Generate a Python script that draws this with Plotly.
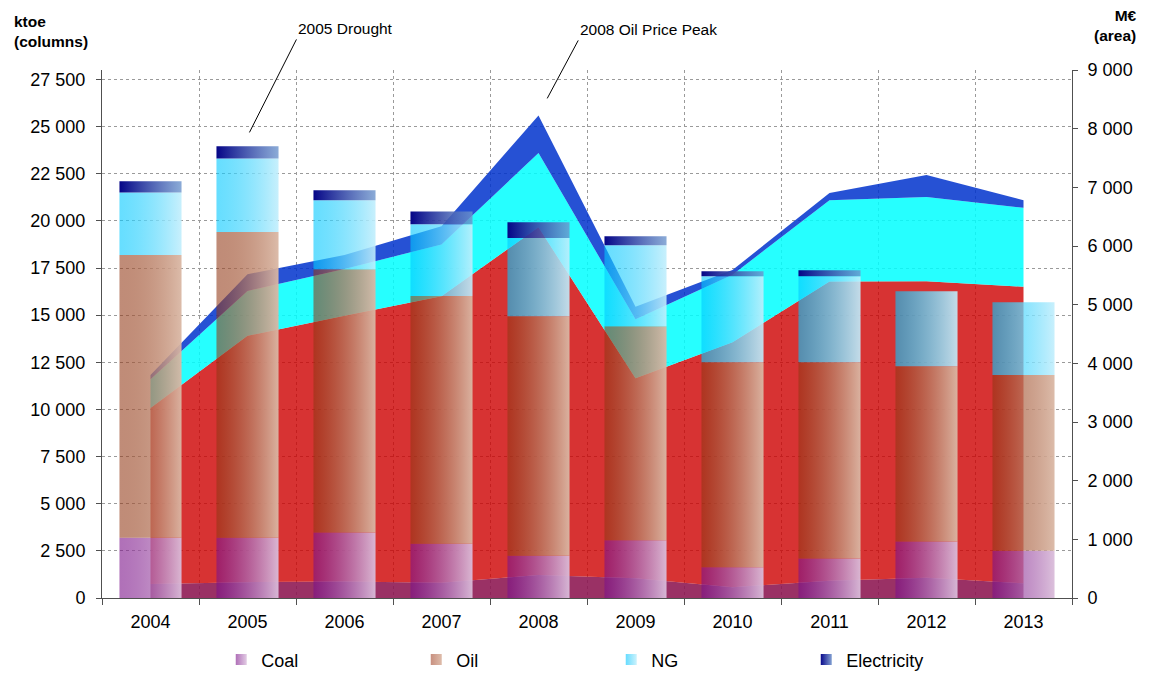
import plotly.graph_objects as go

# ---------------- data ----------------
years = ["2004", "2005", "2006", "2007", "2008", "2009", "2010", "2011", "2012", "2013"]

# columns (ktoe, left axis)
coal_ktoe = [3200, 3200, 3480, 2880, 2240, 3060, 1630, 2100, 2990, 2510]
oil_ktoe = [14990, 16210, 13950, 13140, 12700, 11350, 10870, 10400, 9300, 9310]
ng_ktoe = [3320, 3900, 3660, 3800, 4150, 4290, 4560, 4560, 3980, 3860]
elec_ktoe = [590, 640, 530, 680, 830, 480, 270, 320, 0, 0]

# areas (M EUR, right axis)
coal_meur = [240, 270, 280, 260, 390, 335, 185, 295, 345, 250]
oil_meur = [3000, 4200, 4530, 4885, 5930, 3410, 4175, 5100, 5055, 5055]
ng_meur = [490, 765, 800, 880, 1265, 1005, 1150, 1385, 1435, 1345]
elec_meur = [70, 285, 235, 310, 640, 215, 80, 125, 375, 130]

series_names = ["Coal", "Oil", "NG", "Electricity"]
left_ticks = [0, 2500, 5000, 7500, 10000, 12500, 15000, 17500, 20000, 22500, 25000, 27500]
right_ticks = [0, 1000, 2000, 3000, 4000, 5000, 6000, 7000, 8000, 9000]

# ---------------- styles ----------------
area_colors = ["rgba(140,20,80,0.88)", "rgba(205,0,0,0.8)", "rgba(0,255,255,0.85)", "rgba(0,51,204,0.85)"]
bar_grad = [
    ("rgba(123,17,137,0.6)", "rgba(218,189,218,0.95)"),
    ("rgba(144,53,18,0.57)", "rgba(218,184,165,0.95)"),
    ("rgba(0,200,255,0.6)", "rgba(194,238,252,0.9)"),
    ("rgba(5,5,135,1)", "rgba(110,150,205,0.8)"),
]
legend_grad = [
    ("rgb(176,112,184)", "rgb(226,204,228)"),
    ("rgb(200,144,128)", "rgb(222,188,170)"),
    ("rgb(102,220,255)", "rgb(204,242,252)"),
    ("rgb(10,10,140)", "rgb(130,160,210)"),
]
BAR_HALF = 0.32
FONT = "Liberation Sans, Arial, sans-serif"

idx = list(range(len(years)))
fig = go.Figure()

# stacked areas (drawn first, base axis 'y' = right M EUR axis)
for name, vals, col in zip(series_names, [coal_meur, oil_meur, ng_meur, elec_meur], area_colors):
    fig.add_trace(go.Scatter(
        x=idx, y=vals, stackgroup="meur", mode="none", fillcolor=col,
        yaxis="y", showlegend=False, hoverinfo="skip", name=name + " (M€)"))

# stacked gradient columns (overlaying axis 'y2' = left ktoe axis)
base = [0] * len(years)
for name, vals, (c0, c1) in zip(series_names, [coal_ktoe, oil_ktoe, ng_ktoe, elec_ktoe], bar_grad):
    for i, v in enumerate(vals):
        if v <= 0:
            continue
        b, t = base[i], base[i] + v
        x0, x1 = i - BAR_HALF, i + BAR_HALF
        fig.add_trace(go.Scatter(
            x=[x0, x1, x1, x0, x0], y=[b, b, t, t, b],
            fill="toself", mode="lines", line=dict(width=0),
            fillgradient=dict(type="horizontal", colorscale=[[0, c0], [1, c1]]),
            yaxis="y2", showlegend=False, hoverinfo="skip", name=name))
        base[i] = t

# legend entries with gradient swatches
for name, (l0, l1) in zip(series_names, legend_grad):
    fig.add_trace(go.Scatter(
        x=[None], y=[None], mode="markers", name=name, yaxis="y2",
        marker=dict(symbol="square", size=11, color=l0,
                    gradient=dict(type="horizontal", color=l1), line=dict(width=0))))

grid_col = "#9a9a9a"
axis_col = "#505050"

fig.update_layout(
    width=1141, height=667,
    margin=dict(l=94, r=77, t=62, b=77, autoexpand=False),
    paper_bgcolor="white", plot_bgcolor="white",
    font=dict(family=FONT, size=18, color="black"),
    separators=". ",
    hovermode=False,
    xaxis=dict(
        range=[-0.5, len(years) - 0.5], tickmode="array", tickvals=idx, ticktext=years,
        ticks="", showgrid=False, showline=True, linecolor=axis_col, linewidth=1,
        zeroline=False, fixedrange=True, ticklabelstandoff=7,
        minor=dict(tickmode="array", tickvals=[i - 0.5 for i in range(len(years) + 1)],
                   ticks="outside", ticklen=6, tickcolor=axis_col,
                   showgrid=True, gridcolor=grid_col, griddash="dot", gridwidth=1),
    ),
    yaxis=dict(
        side="right", range=[0, 9000], tickmode="array", tickvals=right_ticks, tickformat=",",
        ticks="outside", ticklen=5, tickcolor=axis_col, showgrid=False, showline=True,
        linecolor=axis_col, zeroline=False, fixedrange=True, ticklabelstandoff=6,
    ),
    yaxis2=dict(
        side="left", overlaying="y", range=[0, 28000], tickmode="array", tickvals=left_ticks,
        tickformat=",", ticks="outside", ticklen=5, tickcolor=axis_col, showgrid=True,
        gridcolor=grid_col, griddash="dot", gridwidth=1, showline=True, linecolor=axis_col,
        zeroline=False, fixedrange=True, ticklabelstandoff=7,
    ),
    legend=dict(orientation="h", x=0.525, xanchor="center", y=-0.117, yanchor="middle",
                traceorder="normal", entrywidth=150, font=dict(size=18, family=FONT),
                bgcolor="rgba(0,0,0,0)"),
    annotations=[
        dict(text="<b>ktoe<br>(columns)</b>", xref="paper", yref="paper", x=-0.093, y=1.112,
             xanchor="left", yanchor="top", align="left", showarrow=False,
             font=dict(family=FONT, size=15.5)),
        dict(text="<b>M€<br>(area)</b>", xref="paper", yref="paper", x=1.069, y=1.124,
             xanchor="right", yanchor="top", align="right", showarrow=False,
             font=dict(family=FONT, size=15.5)),
        dict(text="2005 Drought", xref="x", yref="y2", x=1.02, y=24690,
             ax=47, ay=-93, xanchor="left", yanchor="bottom", showarrow=True,
             arrowhead=0, arrowwidth=1, arrowcolor="black",
             font=dict(family=FONT, size=15.5)),
        dict(text="2008 Oil Price Peak", xref="x", yref="y2", x=4.09, y=26494,
             ax=31, ay=-58, xanchor="left", yanchor="bottom", showarrow=True,
             arrowhead=0, arrowwidth=1, arrowcolor="black",
             font=dict(family=FONT, size=15.5)),
    ],
)

fig.write_html("out.html")
